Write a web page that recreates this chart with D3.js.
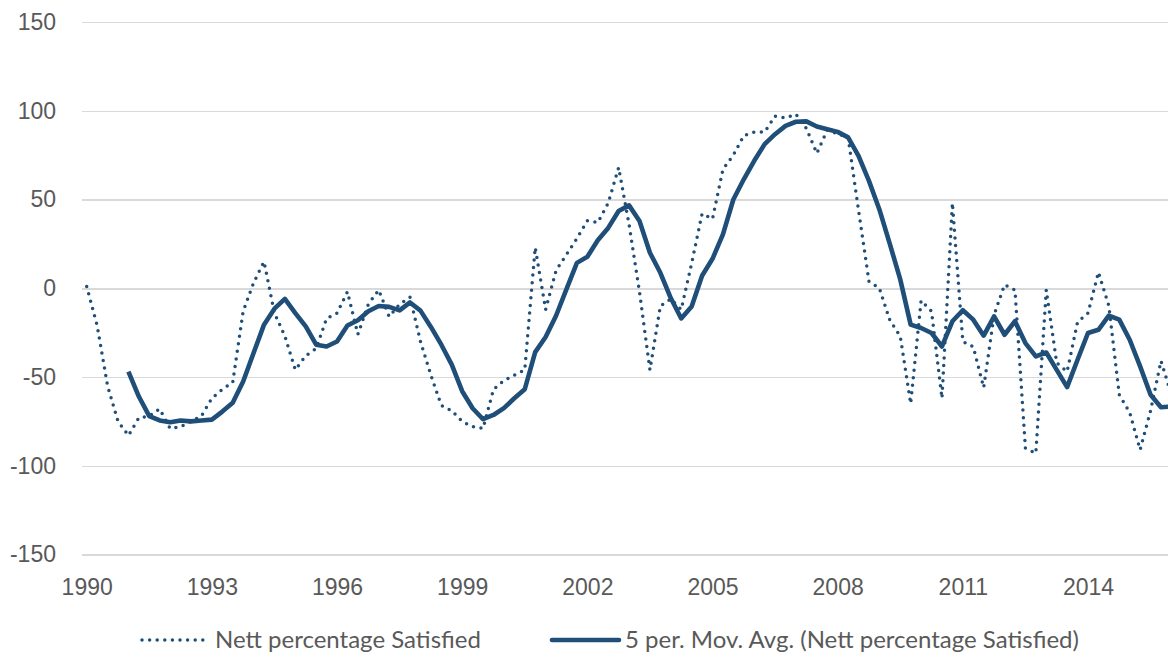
<!DOCTYPE html>
<html>
<head>
<meta charset="utf-8">
<script src="https://d3js.org/d3.v7.min.js"></script>
<style>
  body { margin: 0; background: #fff; }
  svg { font-family: Lato, "Open Sans", sans-serif; }
  .axis text { font-size: 23px; fill: #595959; }
  .axis path, .axis line { display: none; }
  .grid line { stroke: #D9D9D9; stroke-width: 1.5; shape-rendering: crispEdges; }
  .grid path { display: none; }
  .legend text { font-size: 24px; fill: #595959; }
</style>
</head>
<body>
<div id="chart"></div>
<script>
// quarterly series, first point = 1990 Q1
var firstYear = 1990;

var nettSatisfied = [
  1, -21, -55, -75, -83, -73, -72, -68, -79, -78,
  -75, -72, -62, -57, -53, -13, 3, 15, -14, -27,
  -46, -38, -34, -17, -14, -2, -26, -9, -1, -16,
  -9, -5, -30, -49, -66, -69, -75, -78, -79, -57,
  -52, -49, -46, 23, -12, 10, 19, 28, 38, 37,
  48, 68, 36, -2, -46, -10, -6, -12, 14, 42,
  39, 67, 75, 86, 88, 88, 97, 96, 98, 90,
  76, 89, 87, 85, 44, 4, 0, -18, -27, -65,
  -7, -13, -62, 48, -30, -33, -56, -15, 2, -1,
  -90, -93, -1, -42, -47, -19, -14, 9, -10, -60,
  -70, -91, -69, -41, -60
];

// 5 period moving average as drawn (Excel trendline)
var movAvg = [
  null, null, null, null, -47, -61, -72, -74.5, -75.5, -74.5,
  -75, -74.5, -74, -69.5, -64.5, -52.5, -36.5, -20.5, -11.5, -6,
  -14, -21.5, -31.8, -32.8, -30, -21, -18, -13, -10, -10.5,
  -12.5, -8, -12.6, -21.8, -31.8, -43, -58, -67.6, -73.8, -71.4,
  -67.5, -62, -56.9, -36, -27.5, -15.5, -0.5, 14.3, 17.7, 27,
  34, 43.5, 46.7, 37.9, 20, 8.7, -5.5, -17, -10.3, 7,
  16.6, 30.3, 50, 61.4, 71.8, 81.2, 86.8, 91.5, 93.8, 94,
  91.1, 89.6, 88.1, 85, 74.6, 60.5, 44.4, 25, 5, -20.5,
  -22.4, -25.2, -32.8, -18.6, -12.4, -17.7, -26.7, -15.8, -26.2, -18.6,
  -30.9, -38.4, -36.2, -46, -55.7, -40.3, -25.2, -23.4, -15.4, -17.7,
  -29, -44, -60, -67, -66.7
];

var yTicks = [-150, -100, -50, 0, 50, 100, 150];
var xTickYears = [1990, 1993, 1996, 1999, 2002, 2005, 2008, 2011, 2014];
var seriesNames = ["Nett percentage Satisfied", "5 per. Mov. Avg. (Nett percentage Satisfied)"];

var width = 1168, height = 657;
var plotLeft = 82, plotTop = 22, plotBottom = 554.5;
var color = "#1F4E79";

var svg = d3.select("#chart").append("svg")
    .attr("width", width)
    .attr("height", height);

var x = d3.scaleLinear()
    .domain([1990, 2016])
    .range([86.7, 86.7 + 26 * 41.72]);

var y = d3.scaleLinear()
    .domain([-150, 150])
    .range([plotBottom, plotTop]);

var tOf = function(i) { return firstYear + i / 4; };

// gridlines
svg.append("g")
    .attr("class", "grid")
    .attr("transform", "translate(" + plotLeft + ",0)")
    .call(d3.axisLeft(y).tickValues(yTicks).tickSize(-(width - plotLeft)).tickFormat(""));

// y axis labels (plain hyphen like Excel)
svg.append("g")
    .attr("class", "axis y")
    .attr("transform", "translate(" + plotLeft + ",0)")
    .call(d3.axisLeft(y).tickValues(yTicks).tickSize(0).tickPadding(26)
      .tickFormat(function(d) { return String(d); }));

// x axis labels
svg.append("g")
    .attr("class", "axis x")
    .attr("transform", "translate(0," + plotBottom + ")")
    .call(d3.axisBottom(x).tickValues(xTickYears).tickSize(0).tickPadding(24).tickFormat(d3.format("d")));

var line = d3.line()
    .defined(function(d) { return d != null; })
    .x(function(d, i) { return x(tOf(i)); })
    .y(function(d) { return y(d); });

// raw series, dotted
svg.append("path")
    .datum(nettSatisfied)
    .attr("d", line)
    .style("fill", "none")
    .style("stroke", color)
    .style("stroke-width", 3.5)
    .style("stroke-linecap", "round")
    .style("stroke-dasharray", "0 7.6");

// moving average
svg.append("path")
    .datum(movAvg)
    .attr("d", line)
    .style("fill", "none")
    .style("stroke", color)
    .style("stroke-width", 4.6)
    .style("stroke-linejoin", "round");

// legend
var legend = svg.append("g").attr("class", "legend");
var legendY = 640;
var items = [
  {name: seriesNames[0], x1: 142, x2: 209, dotted: true},
  {name: seriesNames[1], x1: 552, x2: 619, dotted: false}
];
var li = legend.selectAll("g").data(items).enter().append("g");
li.append("line")
    .attr("x1", function(d) { return d.x1; })
    .attr("x2", function(d) { return d.x2; })
    .attr("y1", legendY).attr("y2", legendY)
    .style("stroke", color)
    .style("stroke-width", function(d) { return d.dotted ? 3.5 : 4.6; })
    .style("stroke-linecap", "round")
    .style("stroke-dasharray", function(d) { return d.dotted ? "0 7.6" : null; });
li.append("text")
    .attr("x", function(d) { return d.x2 + 6; })
    .attr("y", legendY)
    .attr("dy", "0.35em")
    .text(function(d) { return d.name; });
</script>
</body>
</html>
